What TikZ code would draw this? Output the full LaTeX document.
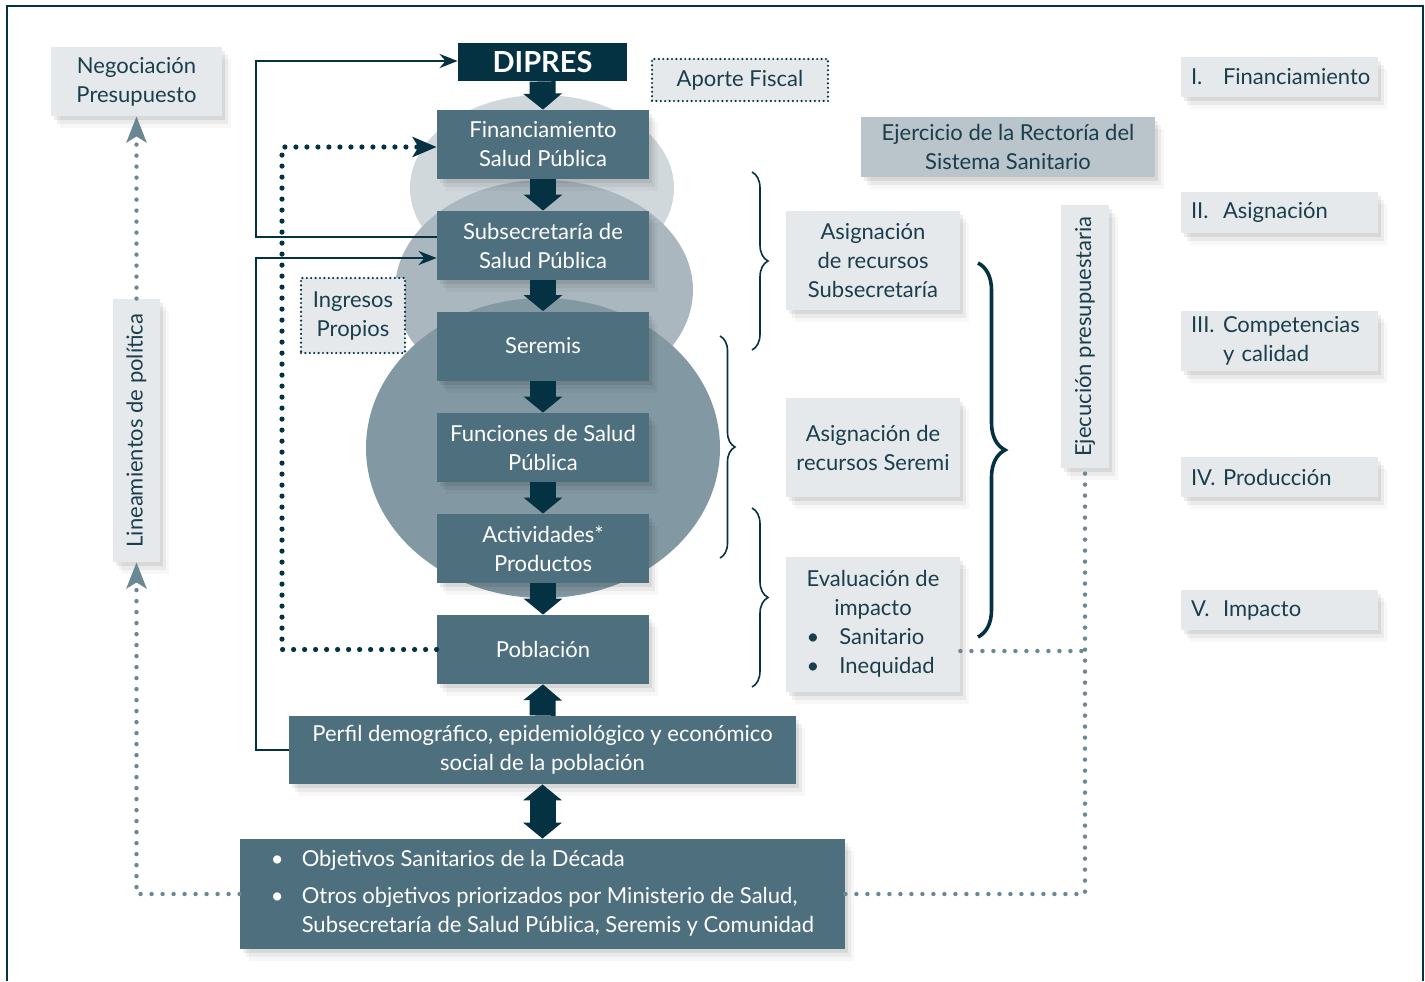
\documentclass[tikz,border=0pt]{standalone}
\usepackage{fontspec}
\setmainfont{Lato}
\usetikzlibrary{arrows.meta,shadows,decorations.pathreplacing}
\definecolor{dk}{HTML}{053242}
\definecolor{mid}{HTML}{4E6F7E}
\definecolor{ellA}{HTML}{D1D8DC}
\definecolor{ellB}{HTML}{AAB7BF}
\definecolor{ellC}{HTML}{8299A4}
\definecolor{lt}{HTML}{E6E9EC}
\definecolor{grb}{HTML}{B9C4CB}
\definecolor{tx}{HTML}{1B3E4C}
\definecolor{gd}{HTML}{6A8793}
\tikzset{
  shd/.style={drop shadow={shadow xshift=1.5pt,shadow yshift=-2pt,opacity=0.07,fill=black},
              drop shadow={shadow xshift=3pt,shadow yshift=-4pt,opacity=0.05,fill=black},
              drop shadow={shadow xshift=4.5pt,shadow yshift=-6pt,opacity=0.03,fill=black}},
  midbox/.style={fill=mid, text=white, align=center, inner sep=0pt, minimum width=106pt, minimum height=34.5pt, shd},
  ltbox/.style={fill=lt, text=tx, align=center, inner sep=0pt, shd},
  numbox/.style={fill=lt, text=tx, align=left, inner xsep=5pt, inner ysep=0pt, text width=88.5pt, shd},
  dotbox/.style={fill=lt, text=tx, align=center, inner sep=0pt, draw=dk, line width=1.2pt, dash pattern=on 0pt off 2.2pt, line cap=round},
  bigarrow/.style={draw=dk, line width=13pt, -{Triangle[width=19pt,length=8pt]}},
  bigdouble/.style={draw=dk, line width=13pt, {Triangle[width=19pt,length=8pt]}-{Triangle[width=19pt,length=8pt]}},
  solidline/.style={draw=dk, line width=1.3pt},
  dkdots/.style={draw=dk, line width=2.6pt, dash pattern=on 0pt off 5.5pt, line cap=round},
  grdots/.style={draw=gd, line width=2.2pt, dash pattern=on 0pt off 5.5pt, line cap=round},
  thinbrace/.style={draw=dk, line width=0.8pt, decorate, decoration={brace, amplitude=8pt}},
  bigbrace/.style={draw=dk, line width=1.8pt, decorate, decoration={brace, amplitude=13.5pt}},
}
\begin{document}
\begin{tikzpicture}[x=0.5pt, y=-0.5pt, font=\fontsize{11}{14.5}\selectfont]
\useasboundingbox (0,0) rectangle (1425,981);
\fill[white] (0,0) rectangle (1425,981);
% frame
\draw[dk, line width=1pt] (7,981) -- (7,6) -- (1423,6) -- (1423,981);

% ellipses
\fill[ellA] (542,188) ellipse [x radius=66pt, y radius=46.5pt];
\fill[ellB] (544,290) ellipse [x radius=74.5pt, y radius=55pt];
\fill[ellC] (543,448) ellipse [x radius=88.5pt, y radius=75pt];

% coordinates
\coordinate (c1) at (256,61);
\coordinate (c2) at (256,258);
\coordinate (c3) at (282,147);
\coordinate (c4) at (1086,651);

% central column
\node[fill=dk, text=white, inner sep=0pt, minimum width=84.5pt, minimum height=19pt,
      font=\fontsize{14.5}{16}\selectfont\bfseries] (dipres) at (542.5,62) {DIPRES};
\node[midbox] (fin) at (543,144.5) {Financiamiento\\Salud Pública};
\node[midbox] (sub) at (543,245.5) {Subsecretaría de\\Salud Pública};
\node[midbox] (ser) at (543,346) {Seremis};
\node[midbox] (fun) at (543,447.5) {Funciones de Salud\\Pública};
\node[midbox] (act) at (543,548.5) {Actividades*\\Productos};
\node[midbox] (pob) at (543,649.5) {Población};
\node[midbox, minimum width=253.5pt, minimum height=34pt] (perfil) at (542.5,750)
  {Perfil demográfico, epidemiológico y económico\\social de la población};
\node[midbox, minimum width=302.5pt, minimum height=55pt, align=left] (obj) at (542.5,894)
  {\begin{tabular}{@{}l@{\hspace{9pt}}l@{}}
   \textbullet & Objetivos Sanitarios de la Década\\[4pt]
   \textbullet & Otros objetivos priorizados por Ministerio de Salud,\\
               & Subsecretaría de Salud Pública, Seremis y Comunidad
   \end{tabular}};

% left side
\node[ltbox, minimum width=85.5pt, minimum height=34.5pt] (neg) at (136.5,81.5) {Negociación\\Presupuesto};
\node[ltbox, rotate=90, minimum width=131.5pt, minimum height=23.5pt] (lin) at (136.5,430.5) {Lineamientos de política};
\node[dotbox, minimum width=52pt, minimum height=37.5pt] (ing) at (353,315.5) {Ingresos\\Propios};
\node[dotbox, minimum width=88pt, minimum height=21pt] (apo) at (740,80) {Aporte Fiscal};

% middle right
\node[fill=grb, text=tx, align=center, inner sep=0pt, minimum width=147pt, minimum height=30pt, shd] (eje0) at (1008,147)
  {Ejercicio de la Rectoría del\\Sistema Sanitario};
\node[ltbox, minimum width=87pt, minimum height=49.5pt] (asub) at (873,260.5) {Asignación\\de recursos\\Subsecretaría};
\node[ltbox, minimum width=87pt, minimum height=49.5pt] (aser) at (873,447.5) {Asignación de\\recursos Seremi};
\node[ltbox, minimum width=87pt, minimum height=67.5pt] (eval) at (873,624.5)
  {\begin{tabular}{@{}l@{\hspace{10pt}}l@{}}
   \multicolumn{2}{@{}c@{}}{Evaluación de}\\
   \multicolumn{2}{@{}c@{}}{impacto}\\
   \textbullet & Sanitario\\
   \textbullet & Inequidad
   \end{tabular}};
\node[ltbox, rotate=90, minimum width=131.5pt, minimum height=24pt] (ejec) at (1085,336.5) {Ejecución presupuestaria};

% right column
\node[numbox, minimum height=20pt] (r1) at (1279.5,77) {\makebox[16pt][l]{I.}Financiamiento};
\node[numbox, minimum height=20.5pt] (r2) at (1279.5,212.5) {\makebox[16pt][l]{II.}Asignación};
\node[numbox, minimum height=30pt] (r3) at (1279.5,341) {\makebox[16pt][l]{III.}Competencias\\\hspace*{16pt}y calidad};
\node[numbox, minimum height=20pt] (r4) at (1279.5,477) {\makebox[16pt][l]{IV.}Producción};
\node[numbox, minimum height=20pt] (r5) at (1279.5,610) {\makebox[16pt][l]{V.}Impacto};

% big arrows
\draw[bigarrow] (dipres.south) -- (fin.north);
\draw[bigarrow] (fin.south) -- (sub.north);
\draw[bigarrow] (sub.south) -- (ser.north);
\draw[bigarrow] (ser.south) -- (fun.north);
\draw[bigarrow] (fun.south) -- (act.north);
\draw[bigarrow] (act.south) -- (pob.north);
\draw[bigarrow] (perfil.north) -- (pob.south);
\draw[bigdouble] (perfil.south) -- (obj.north);

% solid connectors
\draw[solidline, -{Stealth[length=9pt,width=7pt]}] ([yshift=4.25pt]sub.west) -| (c1) -- (c1 -| dipres.west);
\draw[solidline, -{Stealth[length=9pt,width=7pt]}] (perfil.west) -| (c2) -- (c2 -| sub.west);

% dark dotted connector
\draw[dkdots, -{Stealth[length=12pt,width=10pt,inset=3pt]}] (pob.west) -| (c3) -- (c3 -| fin.west);

% grey dotted connectors
\draw[grdots, -{Stealth[length=13pt,width=10pt,inset=3pt]}] (obj.west) -| (lin.west);
\draw[grdots, -{Stealth[length=13pt,width=10pt,inset=3pt]}] (lin.east) -- (neg.south);
\draw[grdots] (obj.east) -| (ejec.west);
\draw[grdots] (eval.east |- c4) -- (c4);

% braces
\draw[thinbrace] (752,172) -- (752,350);
\draw[thinbrace, decoration={brace, amplitude=7.5pt}] (720,336) -- (720,558);
\draw[thinbrace] (752,508) -- (752,687);
\draw[bigbrace] (978,263) -- (978,637);
\end{tikzpicture}
\end{document}
